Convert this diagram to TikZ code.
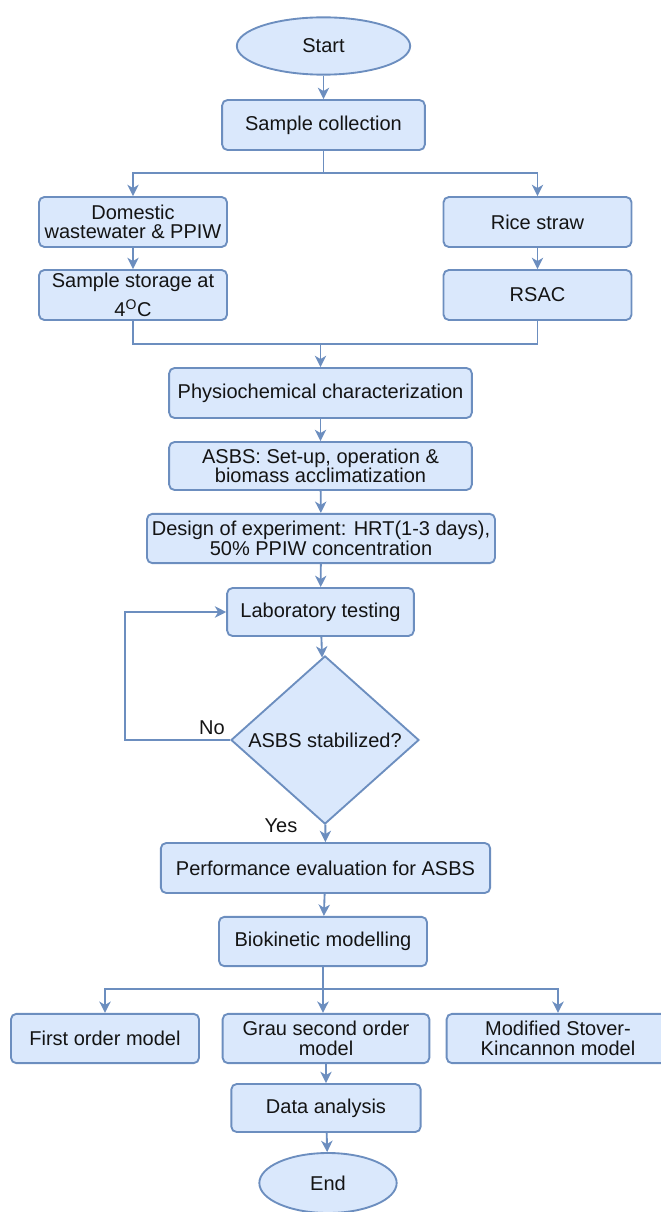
\documentclass[tikz,border=0pt]{standalone}
\usepackage{fontspec}
\setmainfont{Liberation Sans}
\usetikzlibrary{shapes.geometric,arrows.meta}
\definecolor{boxfill}{HTML}{DAE8FC}
\definecolor{boxline}{HTML}{6C8EBF}
\definecolor{txt}{HTML}{141414}
\tikzset{
  stepbox/.style={draw=boxline, fill=boxfill, line width=1.4pt, rounded corners=4pt,
    align=center, inner sep=2pt, text=txt, font=\fontsize{15}{14.5}\selectfont},
  terminal/.style={stepbox, ellipse, rounded corners=0pt},
  decision/.style={stepbox, diamond, rounded corners=0pt, inner sep=0pt},
  conn/.style={draw=boxline, line width=1.4pt},
  arr/.style={conn, -{Stealth[length=8.5pt,width=8.5pt,inset=2.5pt]}},
  lbl/.style={text=txt, font=\fontsize{15}{15}\selectfont}
}
\begin{document}
\begin{tikzpicture}[x=0.75pt,y=-0.75pt]
\useasboundingbox (0,0) rectangle (660,1212);
% start and sampling
\node[terminal, minimum width=130pt, minimum height=43pt] (start) at (323.5,46) {Start};
\node[stepbox, minimum width=152pt, minimum height=37.5pt] (coll) at (323.5,125) {Sample collection};
\node[stepbox, minimum width=141pt, minimum height=37.5pt] (dom) at (133,222) {Domestic\\wastewater \& PPIW};
\node[stepbox, minimum width=141pt, minimum height=37.5pt] (rice) at (537.5,222) {Rice straw};
\node[stepbox, minimum width=141pt, minimum height=37.5pt] (store) at (133,295) {Sample storage at\\[5pt]4\textsuperscript{O}C};
\node[stepbox, minimum width=141pt, minimum height=37.5pt] (rsac) at (537.5,295) {RSAC};
% treatment
\node[stepbox, minimum width=227pt, minimum height=37.5pt] (phys) at (320.5,393) {Physiochemical characterization};
\node[stepbox, minimum width=227pt, minimum height=36pt] (asbs) at (320.5,466) {ASBS: Set-up, operation \&\\biomass acclimatization};
\node[stepbox, minimum width=261pt, minimum height=37pt] (design) at (321,538.5) {Design of experiment: HRT(1-3 days),\\50\% PPIW concentration};
\node[stepbox, minimum width=140pt, minimum height=36pt] (lab) at (320.5,612) {Laboratory testing};
\node[decision, minimum width=141pt, minimum height=117pt] (dec) at (325,740) {ASBS stabilized?};
\node[lbl] (no) at (212,728) {No};
\node[lbl] (yes) at (281,826) {Yes};
\node[stepbox, minimum width=247pt, minimum height=37.5pt] (perf) at (325.5,868) {Performance evaluation for ASBS};
\node[stepbox, minimum width=156pt, minimum height=37pt] (bio) at (323,941.5) {Biokinetic modelling};
% models
\node[stepbox, minimum width=141pt, minimum height=37pt] (first) at (105,1038.5) {First order model};
\node[stepbox, minimum width=155pt, minimum height=37pt] (grau) at (326,1038.5) {Grau second order\\model};
\node[stepbox, minimum width=167pt, minimum height=37pt] (mod) at (558,1038.5) {Modified Stover-\\Kincannon model};
\node[stepbox, minimum width=142pt, minimum height=36pt] (data) at (326,1108) {Data analysis};
\node[terminal, minimum width=103pt, minimum height=45pt] (stop) at (328,1183) {End};
% connectors
\coordinate (split1) at (323.5,173);
\coordinate (merge) at (320.5,344);
\coordinate (loop) at (125,740);
\coordinate (split2) at (323,989);
\foreach \a/\b in {start/coll,dom/store,rice/rsac,phys/asbs,asbs/design,design/lab,lab/dec,dec/perf,perf/bio,grau/data,data/stop}{
  \draw[arr] (\a) -- (\b);
}
\draw[conn] (coll) -- (split1);
\draw[arr] (split1) -| (dom);
\draw[arr] (split1) -| (rice);
\draw[conn] (store) |- (merge);
\draw[conn] (rsac) |- (merge);
\draw[arr] (merge) -- (phys);
\draw[arr] (dec) -- (loop) |- (lab);
\draw[conn] (bio) -- (split2);
\draw[arr] (split2) -| (first);
\draw[arr] (split2) -- (split2 |- grau.north);
\draw[arr] (split2) -| (mod);
\end{tikzpicture}
\end{document}
